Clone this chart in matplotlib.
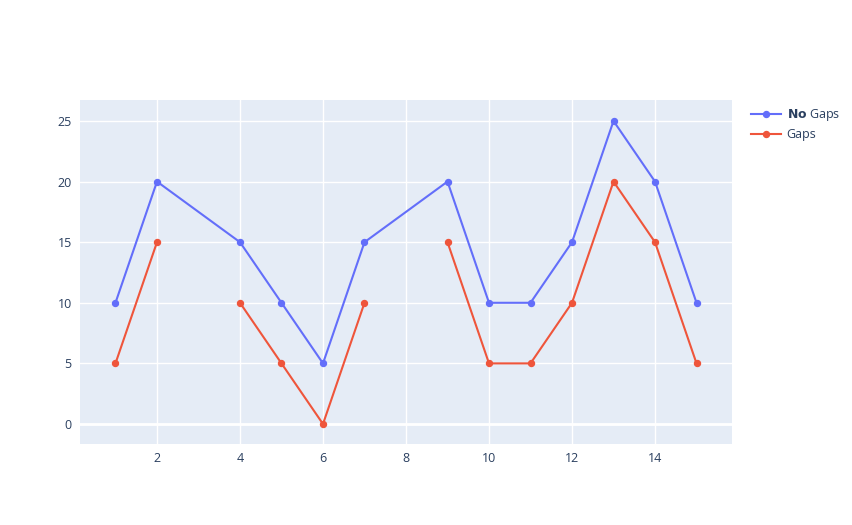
import matplotlib
matplotlib.use("Agg")
import matplotlib.pyplot as plt
import numpy as np

plt.rcParams['font.family'] = ['Open Sans', 'DejaVu Sans']

# data (None = gap)
x = list(range(1, 16))
y_no_gaps = [10, 20, None, 15, 10, 5, 15, None, 20, 10, 10, 15, 25, 20, 10]
y_gaps = [5, 15, None, 10, 5, 0, 10, None, 15, 5, 5, 10, 20, 15, 5]
x_ticks = [2, 4, 6, 8, 10, 12, 14]
y_ticks = [0, 5, 10, 15, 20, 25]

blue = '#636efa'
red = '#EF553B'
txt = '#2a3f5f'

fig = plt.figure(figsize=(8.52, 5.25), dpi=100)
ax = fig.add_axes([80 / 852, 1 - 444 / 525, 652 / 852, 344 / 525])
ax.set_facecolor('#E5ECF6')

xa = np.array(x, dtype=float)
yn = np.array([np.nan if v is None else v for v in y_no_gaps], dtype=float)
yg = np.array([np.nan if v is None else v for v in y_gaps], dtype=float)

# connect gaps: drop missing points for the first trace
m = ~np.isnan(yn)
ax.plot(xa[m], yn[m], color=blue, lw=1.5, marker='o', ms=4.3,
        label=r'$\bf{No}$ Gaps', zorder=3)
ax.plot(xa, yg, color=red, lw=1.5, marker='o', ms=4.3,
        label='Gaps', zorder=3)

ax.set_xlim(0.145, 15.855)
ax.set_ylim(-1.65, 26.73)
ax.set_xticks(x_ticks)
ax.set_yticks(y_ticks)
ax.grid(True, color='white', lw=1)
ax.axhline(0, color='white', lw=2, zorder=1)
ax.set_axisbelow(True)
for s in ax.spines.values():
    s.set_visible(False)
ax.tick_params(length=0, labelsize=9, colors=txt, pad=6)

leg = ax.legend(loc='upper left', bbox_to_anchor=(746 / 852, 1 - 102 / 525),
                bbox_transform=fig.transFigure, frameon=False,
                fontsize=9, handlelength=2.4, handletextpad=0.45,
                labelspacing=0.4, borderaxespad=0)
for t in leg.get_texts():
    t.set_color(txt)

fig.savefig('out.png', dpi=100)
